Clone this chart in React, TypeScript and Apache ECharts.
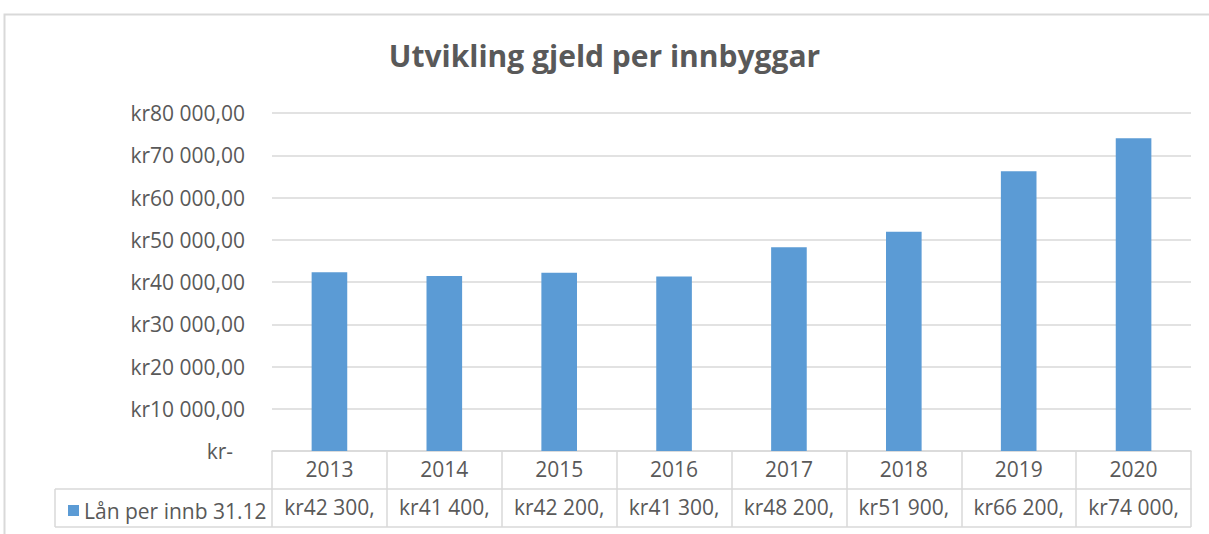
import React, { useEffect, useRef } from "react";
import * as echarts from "echarts";

const years = ["2013", "2014", "2015", "2016", "2017", "2018", "2019", "2020"];
const values = [42300, 41400, 42200, 41300, 48200, 51900, 66200, 74000];
const seriesName = "Lån per innb 31.12";
const titleText = "Utvikling gjeld per innbyggar";

const W = 1209;
const H = 534;
const GL = 272;
const GR = 1191;
const GT = 113;
const GB = 451;
const ROW = 38;
const LEG_L = 55;
const GRAY = "#d9d9d9";
const TXT = "#595959";
const FONT = "'Open Sans', 'Noto Sans', sans-serif";
const FS = 21;

function groupNum(n: number): string {
  const s = Math.round(n).toString();
  return s.replace(/\B(?=(\d{3})+(?!\d))/g, " ");
}

export default function App() {
  const ref = useRef<HTMLDivElement>(null);
  useEffect(() => {
    if (!ref.current) return;
    const chart = echarts.init(ref.current, undefined, { renderer: "svg" });
    const line = (x1: number, y1: number, x2: number, y2: number) => ({
      type: "line",
      shape: { x1, y1, x2, y2 },
      style: { stroke: GRAY, lineWidth: 1.5 },
      silent: true,
    });
    chart.setOption({
      animation: false,
      backgroundColor: "#ffffff",
      title: {
        text: titleText,
        left: "center",
        top: 35,
        textStyle: { fontFamily: FONT, fontSize: 30, fontWeight: "bold", color: TXT },
      },
      legend: {
        data: [seriesName],
        left: LEG_L + 8,
        top: GB + ROW + 6,
        icon: "rect",
        itemWidth: 11,
        itemHeight: 11,
        itemGap: 6,
        textStyle: { fontFamily: FONT, fontSize: FS, color: TXT },
        selectedMode: false,
      },
      grid: { left: GL, right: W - GR, top: GT, bottom: H - GB, containLabel: false },
      xAxis: [
        {
          type: "category",
          data: years,
          position: "bottom",
          axisLine: { show: true, lineStyle: { color: GRAY, width: 1.5 } },
          axisTick: { show: true, interval: 0, length: ROW * 2, lineStyle: { color: GRAY, width: 1.5 } },
          axisLabel: { interval: 0, margin: 7, fontFamily: FONT, fontSize: FS, color: TXT },
        },
        {
          type: "category",
          data: values.map((v) => "kr" + groupNum(v) + ","),
          position: "bottom",
          offset: ROW,
          axisLine: { show: true, lineStyle: { color: GRAY, width: 1.5 } },
          axisTick: { show: false },
          axisLabel: { interval: 0, margin: 7, fontFamily: FONT, fontSize: FS, color: TXT },
        },
      ],
      yAxis: {
        type: "value",
        min: 0,
        max: 80000,
        interval: 10000,
        axisLine: { show: false },
        axisTick: { show: false },
        splitLine: { lineStyle: { color: GRAY, width: 1.5 } },
        axisLabel: {
          margin: 27,
          fontFamily: FONT,
          fontSize: FS,
          color: TXT,
          formatter: (v: number) => (v === 0 ? "{z|kr-}" : "kr" + groupNum(v) + ",00"),
          rich: {
            z: { fontFamily: FONT, fontSize: FS, color: TXT, padding: [0, 12, 0, 0] },
          },
        },
      },
      series: [
        {
          name: seriesName,
          type: "bar",
          data: values,
          barWidth: "31%",
          itemStyle: { color: "#5b9bd5" },
        },
      ],
      graphic: [
        {
          type: "rect",
          shape: { x: 4.5, y: 14.5, width: 1240, height: 560 },
          style: { fill: "none", stroke: GRAY, lineWidth: 2 },
          silent: true,
        },
        line(LEG_L, GB + ROW, GL, GB + ROW),
        line(LEG_L, GB + ROW * 2, GR, GB + ROW * 2),
        line(LEG_L, GB + ROW, LEG_L, GB + ROW * 2),
      ],
    });
    return () => chart.dispose();
  }, []);
  return (
    <div
      ref={ref}
      style={{ position: "fixed", left: 0, top: 0, width: W, height: H }}
    />
  );
}
